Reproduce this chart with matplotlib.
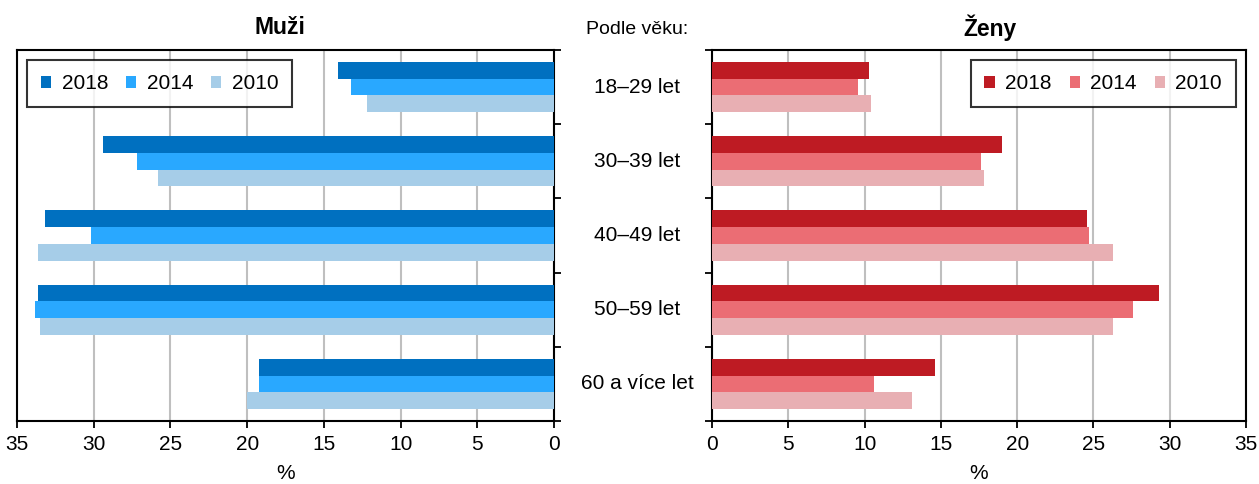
import numpy as np
import matplotlib
matplotlib.use("Agg")
import matplotlib.pyplot as plt
import matplotlib.transforms as mtrans

plt.rcParams['font.family'] = ['Liberation Sans', 'DejaVu Sans']

groups = ["18–29 let", "30–39 let", "40–49 let", "50–59 let", "60 a více let"]
years = ["2018", "2014", "2010"]

muzi_2018 = [14.1, 29.4, 33.2, 33.6, 19.2]
muzi_2014 = [13.2, 27.2, 30.2, 33.8, 19.2]
muzi_2010 = [12.2, 25.8, 33.6, 33.5, 20.0]

zeny_2018 = [10.3, 19.0, 24.6, 29.3, 14.6]
zeny_2014 = [9.6, 17.6, 24.7, 27.6, 10.6]
zeny_2010 = [10.4, 17.8, 26.3, 26.3, 13.1]

blue = ["#0070C0", "#29A8FF", "#A6CDE8"]
red = ["#BE1B23", "#EB6D74", "#E8AFB3"]

fig = plt.figure(figsize=(12.59, 4.84), dpi=100)
ax1 = fig.add_axes([17/1259, 63/484, 537/1259, 371/484])
ax2 = fig.add_axes([712/1259, 63/484, 534/1259, 371/484])

y = np.arange(len(groups))
h = 0.225
fs = 15


def draw(ax, series, cols, left):
    for k, (vals, c) in enumerate(zip(series, cols)):
        ax.barh(y + (k - 1) * h, vals, height=h, color=c, label=years[k],
                linewidth=0, zorder=3)
    ax.set_ylim(4.5, -0.5)
    ax.set_yticks(np.arange(-0.5, 5.0, 1.0))
    ax.set_yticklabels([])
    ax.set_xticks(np.arange(0, 36, 5))
    ax.grid(axis='x', color='#BFBFBF', linewidth=1.5, zorder=0)
    ax.set_axisbelow(True)
    for s in ax.spines.values():
        s.set_linewidth(1.5)
    ax.tick_params(axis='both', direction='out', length=5, width=1.3,
                   labelsize=fs, pad=5)
    ax.set_xlabel("%", fontsize=fs, labelpad=7)
    if left:
        ax.set_xlim(35, 0)
        ax.yaxis.tick_right()
    else:
        ax.set_xlim(0, 35)
    leg = ax.legend(loc='upper left' if left else 'upper right', ncol=3,
                    fontsize=fs, frameon=True, fancybox=False,
                    edgecolor='black', handlelength=0.5, handleheight=0.5,
                    handletextpad=0.5, columnspacing=0.85,
                    borderpad=0.65, borderaxespad=0.5)
    leg.get_frame().set_linewidth(1.5)


draw(ax1, [muzi_2018, muzi_2014, muzi_2010], blue, True)
draw(ax2, [zeny_2018, zeny_2014, zeny_2010], red, False)

fig.text(280/1259, 1 - 28/484, "Muži", ha='center', va='center',
         fontsize=16.5, fontweight='bold')
fig.text(990/1259, 1 - 28/484, "Ženy", ha='center', va='center',
         fontsize=16.5, fontweight='bold')
fig.text(637/1259, 1 - 30/484, "Podle věku:", ha='center', va='center',
         fontsize=fs - 1)

tr = mtrans.blended_transform_factory(fig.transFigure, ax1.transData)
for i, g in enumerate(groups):
    ax1.text(637/1259, i, g, transform=tr, ha='center', va='center',
             fontsize=fs, clip_on=False)

fig.savefig("out.png", dpi=100)
